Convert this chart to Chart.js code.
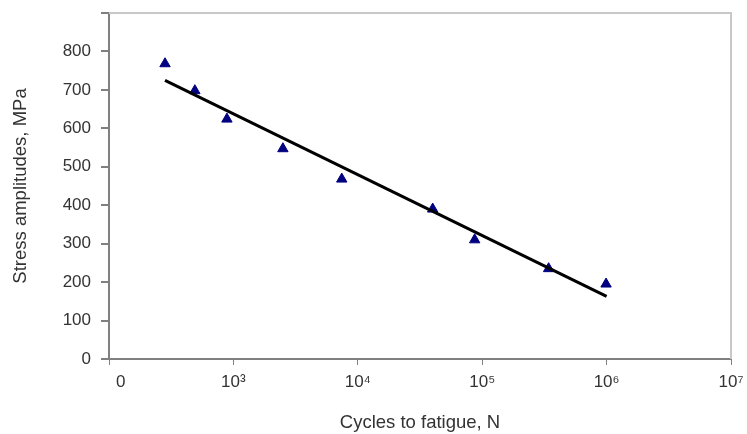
<!DOCTYPE html>
<html>
<head>
<meta charset="utf-8">
<script src="https://cdn.jsdelivr.net/npm/chart.js@4.4.0/dist/chart.umd.min.js"></script>
<style>
    html, body { margin: 0; padding: 0; background: #fff; }
    #wrap { width: 747px; height: 434px; }
</style>
</head>
<body>
<div id="wrap"><canvas id="chart" width="747" height="434"></canvas></div>
<script>
// measured points (cycles, MPa)
const cycles = [282, 490, 887, 2500, 7430, 40000, 87000, 342000, 990000];
const stress = [768, 698, 624, 547, 468, 390, 310, 235, 195];

// trend line end points
const trendX = [282, 1000000];
const trendY = [725, 163];

const xTicks = [100, 1e3, 1e4, 1e5, 1e6, 1e7];
const xTickLabels = ["     0", "10³", "10⁴", "10⁵", "10⁶", "10⁷"];

Chart.defaults.font.family = "'Liberation Sans', Arial, sans-serif";
Chart.defaults.color = "#333";

const frame = {
    id: "frame",
    beforeDatasetsDraw(c) {
        const a = c.chartArea;
        const ctx = c.ctx;
        ctx.save();
        ctx.strokeStyle = "#c8c8c8";
        ctx.lineWidth = 2;
        ctx.beginPath();
        ctx.moveTo(a.left, a.top);
        ctx.lineTo(a.right, a.top);
        ctx.lineTo(a.right, a.bottom);
        ctx.stroke();
        ctx.restore();
    }
};

new Chart(document.getElementById("chart").getContext("2d"), {
    type: "scatter",
    data: {
        datasets: [
            {
                label: "data",
                data: cycles.map((c, i) => ({ x: c, y: stress[i] })),
                pointStyle: "triangle",
                pointRadius: 6,
                backgroundColor: "#000080",
                borderColor: "#000080",
                borderWidth: 1,
                order: 2
            },
            {
                label: "trend",
                data: trendX.map((c, i) => ({ x: c, y: trendY[i] })),
                showLine: true,
                borderColor: "#000",
                borderWidth: 3,
                pointRadius: 0,
                order: 1
            }
        ]
    },
    options: {
        responsive: false,
        animation: false,
        layout: { padding: { left: 0, right: 16, top: 13, bottom: 0 } },
        plugins: { legend: { display: false }, tooltip: { enabled: false } },
        scales: {
            x: {
                type: "logarithmic",
                min: 100,
                max: 1e7,
                afterBuildTicks: s => { s.ticks = xTicks.map(v => ({ value: v })); },
                afterFit: s => { s.height = 75; s.paddingLeft = 0; s.paddingRight = 0; },
                grid: { drawOnChartArea: false, tickLength: 6, color: "#808080", lineWidth: 1 },
                border: { color: "#808080", width: 2 },
                ticks: {
                    maxRotation: 0,
                    autoSkip: false,
                    padding: 7,
                    font: { size: 17 },
                    callback: (v, i) => xTickLabels[i]
                },
                title: {
                    display: true,
                    text: "Cycles to fatigue, N",
                    font: { size: 18.5 },
                    padding: { top: 9, bottom: 0 }
                }
            },
            y: {
                min: 0,
                max: 900,
                afterFit: s => { s.width = 109; s.paddingTop = 0; s.paddingBottom = 0; },
                grid: { drawOnChartArea: false, tickLength: 8, color: "#808080", lineWidth: 2 },
                border: { color: "#808080", width: 2 },
                ticks: {
                    stepSize: 100,
                    padding: 10,
                    font: { size: 17 },
                    callback: v => v === 900 ? "" : v
                },
                title: {
                    display: true,
                    text: "Stress amplitudes, MPa",
                    font: { size: 18.5 },
                    padding: { top: 10, bottom: 10 }
                }
            }
        }
    },
    plugins: [frame]
});
</script>
</body>
</html>
